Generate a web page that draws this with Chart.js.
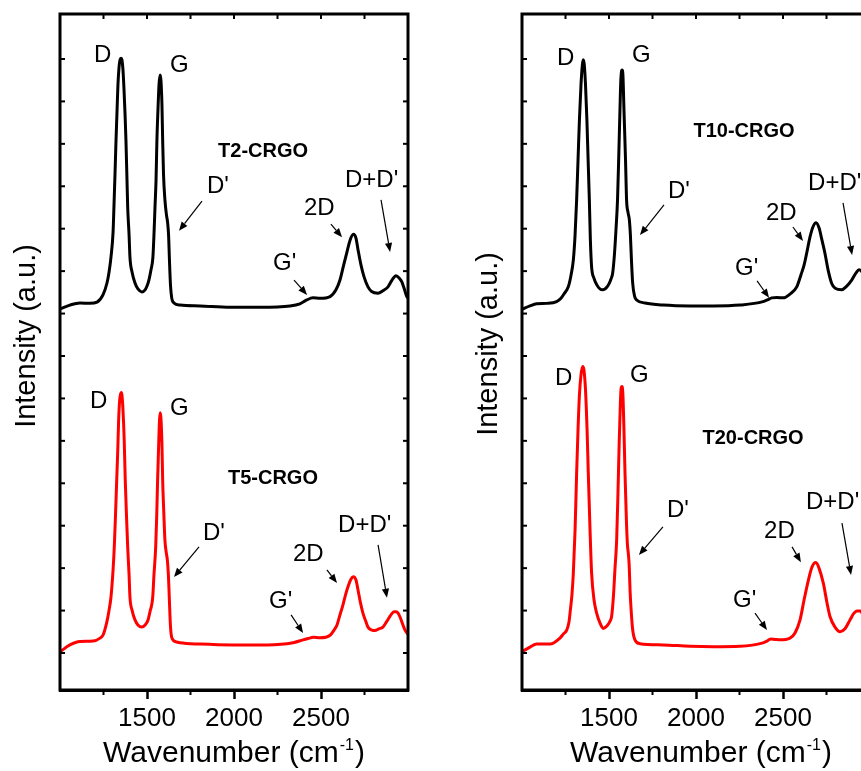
<!DOCTYPE html>
<html><head><meta charset="utf-8">
<script src="https://cdn.jsdelivr.net/npm/chart.js@4/dist/chart.umd.min.js"></script>
<style>
html,body{margin:0;padding:0;background:#fff;overflow:hidden;width:861px;height:771px;}
#wrap{position:relative;width:861px;height:771px;overflow:hidden;background:#fff;}
#c1{position:absolute;left:0;top:0;}
#c2{position:absolute;left:461px;top:0;}
</style></head><body>
<div id="wrap"><canvas id="c1" width="461" height="771"></canvas><canvas id="c2" width="470" height="771"></canvas></div>
<script>
// ---------- data (wavenumber in cm-1, intensity in a.u., offset spectra) ----------
const xTickLabels = [1500, 2000, 2500];
const xMinorTicks = [1250, 1750, 2250, 2750];
const yTickValues = [0,1,2,3,4,5,6,7,8,9,10,11,12,13,14];

const t2Wavenumber = [1000,1057,1115,1172,1213,1247,1270,1282,1293,1305,1310,1316,1322,1328,1333,1339,1345,1351,1356,1362,1368,1374,1379,1385,1389,1397,1402,1414,1431,1448,1470,1489,1500,1511,1523,1534,1540,1546,1552,1557,1563,1569,1575,1580,1586,1590,1595,1603,1612,1618,1624,1629,1635,1642,1655,1690,1805,1977,2149,2322,2379,2418,2454,2494,2552,2586,2609,2626,2648,2667,2686,2701,2713,2730,2747,2770,2791,2828,2856,2885,2908,2931,2949,2964,2977,2993,3000];
const t2Intensity = [8.11,8.20,8.25,8.24,8.27,8.44,8.72,8.98,9.33,9.92,10.51,11.27,12.09,12.80,13.39,13.79,13.98,14.02,13.98,13.74,13.27,12.68,12.09,11.15,10.51,9.85,9.33,8.98,8.72,8.58,8.51,8.56,8.65,8.79,9.03,9.33,9.85,10.51,11.15,12.09,12.80,13.39,13.62,13.50,12.91,12.09,11.27,10.68,10.32,10.16,9.85,9.26,8.67,8.37,8.25,8.20,8.18,8.15,8.15,8.18,8.23,8.32,8.37,8.36,8.40,8.56,8.79,9.07,9.43,9.73,9.87,9.78,9.50,9.14,8.87,8.63,8.52,8.48,8.54,8.63,8.79,8.89,8.84,8.75,8.60,8.40,8.37];

const t5Wavenumber = [1000,1057,1115,1190,1230,1247,1268,1282,1293,1305,1312,1319,1326,1332,1337,1343,1348,1352,1356,1362,1369,1375,1382,1389,1397,1402,1414,1431,1448,1470,1489,1506,1517,1533,1540,1550,1556,1561,1567,1572,1576,1580,1586,1590,1596,1603,1611,1617,1623,1628,1633,1638,1649,1671,1690,1805,1994,2190,2339,2397,2425,2456,2494,2552,2575,2592,2609,2626,2641,2655,2672,2686,2701,2713,2727,2741,2759,2770,2793,2810,2833,2856,2879,2902,2920,2931,2943,2957,2971,2983,2994,3000];
const t5Intensity = [0.03,0.19,0.27,0.28,0.35,0.42,0.71,1.01,1.32,1.96,2.50,3.25,4.08,4.78,5.49,5.96,6.10,6.14,6.08,5.73,5.02,4.08,3.25,2.50,1.84,1.32,1.01,0.78,0.66,0.61,0.66,0.78,0.97,1.32,1.84,2.50,3.25,4.08,4.90,5.49,5.66,5.54,4.90,4.08,3.37,2.66,2.36,2.19,1.84,1.32,0.78,0.47,0.31,0.26,0.24,0.21,0.19,0.19,0.24,0.31,0.34,0.37,0.36,0.42,0.54,0.66,0.90,1.13,1.37,1.56,1.74,1.80,1.72,1.48,1.18,0.94,0.73,0.61,0.54,0.53,0.57,0.61,0.75,0.90,0.97,0.97,0.94,0.82,0.66,0.54,0.47,0.45];

const t10Wavenumber = [1000,1046,1084,1142,1199,1224,1241,1266,1282,1295,1305,1314,1322,1330,1339,1347,1352,1358,1365,1373,1380,1387,1393,1400,1413,1431,1448,1464,1483,1500,1511,1521,1531,1540,1549,1557,1563,1568,1575,1580,1586,1595,1601,1609,1617,1623,1629,1636,1647,1659,1707,1812,1966,2098,2253,2385,2414,2435,2465,2502,2540,2579,2603,2621,2636,2655,2672,2690,2707,2724,2741,2759,2780,2799,2837,2862,2895,2920,2937,2954,2977,3000];
const t10Intensity = [8.10,8.18,8.23,8.24,8.28,8.36,8.46,8.63,8.91,9.26,9.85,10.68,11.62,12.56,13.39,13.86,13.98,13.86,13.39,12.56,11.62,10.68,9.73,9.10,8.84,8.67,8.58,8.56,8.60,8.70,8.81,8.95,9.38,9.97,10.68,11.85,12.80,13.50,13.74,13.62,12.80,11.62,10.68,10.39,10.21,9.85,9.26,8.72,8.41,8.32,8.25,8.20,8.18,8.18,8.20,8.28,8.33,8.37,8.38,8.37,8.46,8.63,8.91,9.14,9.42,9.80,10.04,10.14,10.02,9.73,9.42,9.03,8.71,8.60,8.56,8.63,8.79,8.96,9.03,8.98,8.74,8.51];

const t20Wavenumber = [1000,1046,1084,1161,1218,1238,1257,1270,1276,1287,1295,1305,1314,1322,1330,1339,1349,1356,1365,1374,1381,1391,1400,1414,1429,1448,1467,1489,1506,1515,1526,1534,1544,1552,1559,1566,1570,1575,1580,1586,1592,1600,1606,1611,1616,1621,1626,1635,1649,1678,1810,1966,2098,2253,2385,2408,2429,2454,2483,2540,2569,2598,2621,2646,2667,2689,2707,2732,2753,2770,2799,2828,2856,2885,2908,2925,2943,2966,2983,3000];
const t20Intensity = [0.03,0.14,0.21,0.21,0.35,0.45,0.54,0.73,0.94,1.37,1.88,2.90,4.24,5.26,6.08,6.55,6.75,6.67,6.20,5.26,4.24,2.90,1.89,1.25,0.94,0.71,0.58,0.64,0.75,0.86,1.37,1.96,2.66,3.84,5.02,5.96,6.25,6.28,6.08,5.26,4.24,3.13,2.55,2.35,2.07,1.48,1.09,0.59,0.31,0.22,0.19,0.16,0.15,0.16,0.24,0.28,0.33,0.32,0.31,0.35,0.47,0.78,1.25,1.72,2.03,2.13,2.00,1.64,1.18,0.86,0.61,0.50,0.57,0.78,0.94,0.99,0.99,0.82,0.64,0.49];

// ---------- annotations (data coordinates) ----------
const annLeft = {
  texts: [
    {t:'D', x:1195, y:13.93}, {t:'G', x:1632, y:13.69}, {t:"D'", x:1845, y:10.84},
    {t:"G'", x:2224, y:9.03}, {t:'2D', x:2402, y:10.32}, {t:"D+D'", x:2638, y:10.98},
    {t:'D', x:1172, y:5.77}, {t:'G', x:1632, y:5.61}, {t:"D'", x:1822, y:2.66},
    {t:"G'", x:2201, y:1.06}, {t:'2D', x:2339, y:2.17}, {t:"D+D'", x:2598, y:2.85}
  ],
  samples: [{t:'T2-CRGO', x:2167, y:11.69}, {t:'T5-CRGO', x:2224, y:3.98}],
  arrows: [
    [1816,10.65,1684,9.95],[2345,8.79,2420,8.44],[2557,10.11,2621,9.80],[2845,10.68,2897,9.45],
    [1799,2.50,1655,1.79],[2328,0.90,2397,0.47],[2534,1.96,2592,1.65],[2828,2.55,2879,1.30]
  ],
  yTitle:{x:35, y:336}, xTitle:{x:234, y:762}
};
const annRight = {
  texts: [
    {t:'D', x:1201, y:13.86}, {t:'G', x:1632, y:13.93}, {t:"D'", x:1839, y:10.72},
    {t:"G'", x:2224, y:8.91}, {t:'2D', x:2402, y:10.21}, {t:"D+D'", x:2644, y:10.91},
    {t:'D', x:1190, y:6.32}, {t:'G', x:1621, y:6.39}, {t:"D'", x:1833, y:3.21},
    {t:"G'", x:2213, y:1.08}, {t:'2D', x:2391, y:2.71}, {t:"D+D'", x:2632, y:3.39}
  ],
  samples: [{t:'T10-CRGO', x:2276, y:12.16}, {t:'T20-CRGO', x:2328, y:4.93}],
  arrows: [
    [1816,10.56,1678,9.85],[2351,8.77,2420,8.37],[2557,10.04,2615,9.71],[2845,10.61,2897,9.38],
    [1810,2.97,1672,2.31],[2339,0.94,2408,0.54],[2552,2.50,2603,2.14],[2839,3.06,2891,1.84]
  ],
  yTitle:{x:36, y:344}, xTitle:{x:240, y:762}
};

const FONT = "'Liberation Sans', Arial, Helvetica, sans-serif";

function arrow(ctx, x1, y1, x2, y2) {
  const ang = Math.atan2(y2 - y1, x2 - x1);
  const hl = 9, hw = 3.6;
  const bx = x2 - hl * Math.cos(ang), by = y2 - hl * Math.sin(ang);
  ctx.beginPath(); ctx.moveTo(x1, y1); ctx.lineTo(bx, by); ctx.lineWidth = 1.2; ctx.stroke();
  ctx.beginPath();
  ctx.moveTo(x2, y2);
  ctx.lineTo(bx + hw * Math.sin(ang), by - hw * Math.cos(ang));
  ctx.lineTo(bx - hw * Math.sin(ang), by + hw * Math.cos(ang));
  ctx.closePath(); ctx.fill();
}

const decorPlugin = {
  id: 'decor',
  afterDraw(chart) {
    const ann = chart.options.plugins.decor.ann;
    const ctx = chart.ctx, xs = chart.scales.x, ys = chart.scales.y, a = chart.chartArea;
    ctx.save();
    ctx.strokeStyle = '#000'; ctx.fillStyle = '#000'; ctx.lineCap = 'butt';
    ctx.lineWidth = 2;
    [...xMinorTicks, ...xTickLabels].forEach(v => {
      const px = xs.getPixelForValue(v);
      ctx.beginPath(); ctx.moveTo(px, a.top); ctx.lineTo(px, a.top + 5); ctx.stroke();
    });
    xMinorTicks.forEach(v => {
      const px = xs.getPixelForValue(v);
      ctx.beginPath(); ctx.moveTo(px, a.bottom); ctx.lineTo(px, a.bottom + 5); ctx.stroke();
    });
    yTickValues.forEach(v => {
      const py = ys.getPixelForValue(v);
      ctx.beginPath(); ctx.moveTo(a.left, py); ctx.lineTo(a.left + 5, py); ctx.stroke();
      ctx.beginPath(); ctx.moveTo(a.right, py); ctx.lineTo(a.right - 5, py); ctx.stroke();
    });
    ctx.lineWidth = 3; ctx.lineJoin = 'miter';
    ctx.strokeRect(a.left, a.top, a.right - a.left, a.bottom - a.top);

    ctx.font = '24px ' + FONT; ctx.textAlign = 'left'; ctx.textBaseline = 'alphabetic';
    ann.texts.forEach(o => ctx.fillText(o.t, xs.getPixelForValue(o.x), ys.getPixelForValue(o.y)));
    ctx.font = 'bold 20px ' + FONT; ctx.textAlign = 'center';
    ann.samples.forEach(o => ctx.fillText(o.t, xs.getPixelForValue(o.x), ys.getPixelForValue(o.y)));
    ann.arrows.forEach(r => arrow(ctx, xs.getPixelForValue(r[0]), ys.getPixelForValue(r[1]),
                                       xs.getPixelForValue(r[2]), ys.getPixelForValue(r[3])));

    ctx.save();
    ctx.translate(ann.yTitle.x, ann.yTitle.y); ctx.rotate(-Math.PI / 2);
    ctx.font = '29px ' + FONT; ctx.textAlign = 'center'; ctx.textBaseline = 'alphabetic';
    ctx.fillText('Intensity (a.u.)', 0, 0);
    ctx.restore();

    const main = 'Wavenumber (cm', sup = '-1', close = ')';
    ctx.font = '30px ' + FONT; ctx.textAlign = 'left';
    const wMain = ctx.measureText(main).width, wClose = ctx.measureText(close).width;
    ctx.font = '16px ' + FONT;
    const wSup = ctx.measureText(sup).width;
    const x0 = ann.xTitle.x - (wMain + wSup + 2 + wClose) / 2, yb = ann.xTitle.y;
    ctx.font = '30px ' + FONT; ctx.fillText(main, x0, yb);
    ctx.font = '16px ' + FONT; ctx.fillText(sup, x0 + wMain + 1, yb - 12);
    ctx.font = '30px ' + FONT; ctx.fillText(close, x0 + wMain + wSup + 2, yb);
    ctx.restore();
  }
};

function series(wn, inten, color) {
  return {
    data: wn.map((w, i) => ({x: w, y: inten[i]})),
    borderColor: color, borderWidth: 3, pointRadius: 0, fill: false,
    cubicInterpolationMode: 'monotone', borderJoinStyle: 'round', borderCapStyle: 'round'
  };
}

function makePanel(id, top, bottom, ann, padLeft, padRight) {
  new Chart(document.getElementById(id), {
    type: 'line',
    data: { datasets: [top, bottom] },
    options: {
      responsive: false, animation: false, devicePixelRatio: 1,
      layout: { padding: { left: padLeft, right: padRight, top: 14, bottom: 0 } },
      plugins: { legend: { display: false }, tooltip: { enabled: false }, decor: { ann } },
      scales: {
        x: {
          type: 'linear', min: 1000, max: 3000, position: 'bottom',
          afterBuildTicks: s => { s.ticks = xTickLabels.map(v => ({ value: v })); },
          afterFit: s => { s.height = 81; },
          grid: { display: true, drawOnChartArea: false, drawTicks: true, tickLength: 9, tickWidth: 2.5, color: '#000' },
          border: { display: true, width: 3, color: '#000' },
          ticks: { color: '#000', font: { family: FONT, size: 26 }, padding: 4, maxRotation: 0, autoSkip: false,
                   callback: v => String(v) }
        },
        y: { type: 'linear', display: false, min: -0.872, max: 15.06 }
      }
    },
    plugins: [decorPlugin]
  });
}

makePanel('c1', series(t2Wavenumber, t2Intensity, '#000000'), series(t5Wavenumber, t5Intensity, '#ff0000'), annLeft, 60, 53);
makePanel('c2', series(t10Wavenumber, t10Intensity, '#000000'), series(t20Wavenumber, t20Intensity, '#ff0000'), annRight, 61, 61);
</script>
</body></html>
